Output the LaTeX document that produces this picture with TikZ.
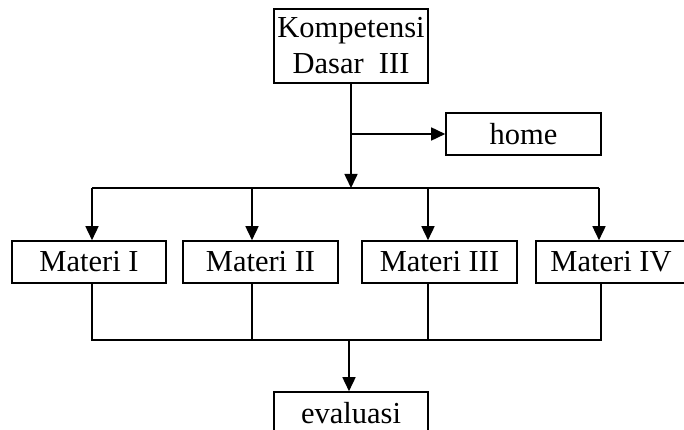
\documentclass[tikz,border=0pt]{standalone}
\usepackage{fontspec}
\setmainfont{Liberation Serif}
\usetikzlibrary{arrows.meta,calc}
\begin{document}
\begin{tikzpicture}[x=1pt,y=-1pt,
  box/.style={draw,line width=1.6pt,inner sep=0pt,font=\fontsize{30.5}{36}\selectfont,align=center},
  link/.style={line width=1.6pt},
  tip/.style={link,-{Triangle[length=14pt,width=13pt]}}]
\useasboundingbox (0,0) rectangle (684,430);

% boxes
\node[box,minimum width=154pt,minimum height=74pt] (kd) at (351,46) {Kompetensi\\Dasar~~III};
\node[box,minimum width=155pt,minimum height=42pt] (home) at (523.5,134) {home};
\node[box,minimum width=154pt,minimum height=42pt] (m1) at (89,262) {Materi I};
\node[box,minimum width=155pt,minimum height=42pt] (m2) at (260.5,262) {Materi II};
\node[box,minimum width=155pt,minimum height=42pt] (m3) at (439.5,262) {Materi III};
\node[box,minimum width=150pt,minimum height=42pt] (m4) at (611,262) {Materi IV};
\node[box,minimum width=154pt,minimum height=42pt] (ev) at (351,413) {evaluasi};

% distribution bus
\coordinate (b1) at (92,188);
\coordinate (b2) at (252,188);
\coordinate (b3) at (428,188);
\coordinate (b4) at (599,188);
% collection bus
\coordinate (j1) at (92,340);
\coordinate (j2) at (252,340);
\coordinate (j3) at (428,340);
\coordinate (j4) at (601,340);
\coordinate (jc) at (349,340);

% top connectors
\draw[tip] (kd.south) -- (kd.south |- b1);
\coordinate (br) at (kd.south |- home.west);
\draw[tip] (br) -- (home.west);
\draw[link] (b1) -- (b4);
\draw[tip] (b1) -- (b1 |- m1.north);
\draw[tip] (b2) -- (b2 |- m2.north);
\draw[tip] (b3) -- (b3 |- m3.north);
\draw[tip] (b4) -- (b4 |- m4.north);

% bottom connectors
\draw[link] (j1 |- m1.south) -- (j1) -- (j4) -- (j4 |- m4.south);
\draw[link] (j2 |- m2.south) -- (j2);
\draw[link] (j3 |- m3.south) -- (j3);
\draw[tip] (jc) -- (jc |- ev.north);
\end{tikzpicture}
\end{document}
